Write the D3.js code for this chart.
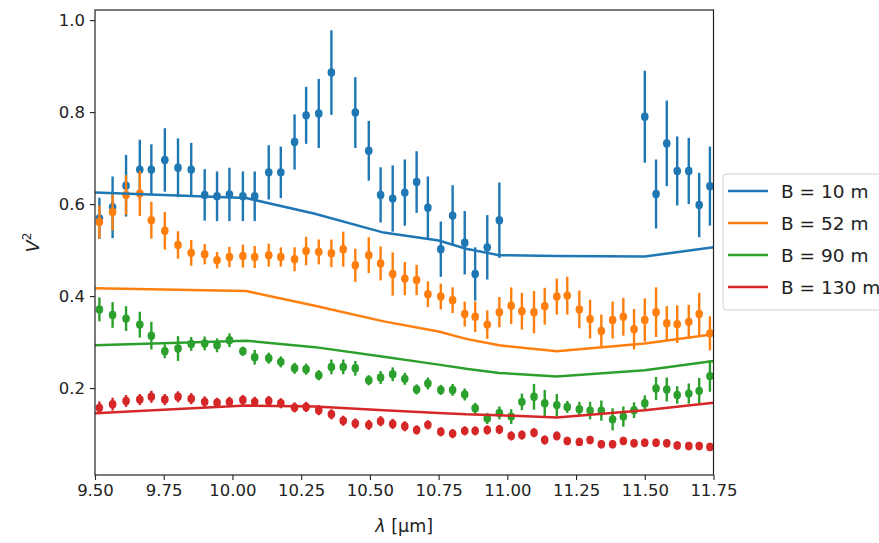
<!DOCTYPE html>
<html>
<head>
<meta charset="utf-8">
<script src="https://cdn.jsdelivr.net/npm/d3@7"></script>
<style>
  body { margin: 0; background: #fff; }
  text { font-family: "DejaVu Sans", sans-serif; fill: #222; }
</style>
</head>
<body>
<div id="chart"></div>
<script>
// wavelengths of the spectral channels (um)
var lam = [9.516, 9.564, 9.613, 9.663, 9.705, 9.754, 9.802, 9.850, 9.899, 9.944, 9.989, 10.038,
  10.081, 10.132, 10.176, 10.226, 10.268, 10.314, 10.360, 10.403, 10.447, 10.496, 10.539, 10.583, 10.627,
  10.670, 10.711, 10.758, 10.801, 10.845, 10.883, 10.927, 10.971, 11.014, 11.053, 11.097, 11.136, 11.180,
  11.218, 11.262, 11.301, 11.342, 11.383, 11.422, 11.461, 11.500, 11.541, 11.580, 11.618, 11.660, 11.698, 11.737];

// measured V^2 (null = no data)
var v2_10 = [0.569, 0.593, 0.640, 0.675, 0.675, 0.696, 0.679, 0.675, 0.620, 0.617, 0.621, 0.617,
  0.617, 0.669, 0.669, 0.735, 0.793, 0.797, 0.886, null, 0.799, 0.716, 0.620, 0.612, 0.625,
  0.648, 0.592, 0.502, 0.575, 0.516, 0.448, 0.506, 0.565, null, null, null, null, null,
  null, null, null, null, null, null, null, 0.790, 0.622, 0.732, 0.672, 0.672, 0.598, 0.639];
var err_10 = [0.045, 0.067, 0.067, 0.065, 0.055, 0.069, 0.064, 0.058, 0.056, 0.054, 0.058, 0.054,
  0.054, 0.059, 0.056, 0.060, 0.062, 0.075, 0.092, null, 0.077, 0.065, 0.060, 0.072, 0.072,
  0.067, 0.068, 0.060, 0.066, 0.069, 0.058, 0.070, 0.082, null, null, null, null, null,
  null, null, null, null, null, null, null, 0.100, 0.075, 0.093, 0.075, 0.072, 0.070, 0.086];

var v2_52 = [0.561, 0.583, 0.620, 0.623, 0.565, 0.542, 0.511, 0.494, 0.491, 0.478, 0.485, 0.487,
  0.485, 0.489, 0.485, 0.480, 0.498, 0.496, 0.493, 0.502, 0.467, 0.489, 0.471, 0.448, 0.438,
  0.435, 0.404, 0.399, 0.391, 0.361, 0.355, 0.338, 0.365, 0.379, 0.367, 0.365, 0.378, 0.399,
  0.401, 0.371, 0.350, 0.324, 0.348, 0.355, 0.328, 0.348, 0.365, 0.341, 0.339, 0.344, 0.361, 0.319];
var err_52 = [0.036, 0.040, 0.043, 0.049, 0.040, 0.041, 0.030, 0.028, 0.022, 0.018, 0.022, 0.025,
  0.024, 0.025, 0.021, 0.026, 0.031, 0.027, 0.030, 0.038, 0.036, 0.039, 0.037, 0.047, 0.036,
  0.033, 0.028, 0.028, 0.028, 0.027, 0.033, 0.031, 0.033, 0.040, 0.040, 0.046, 0.040, 0.039,
  0.041, 0.041, 0.042, 0.036, 0.040, 0.041, 0.044, 0.047, 0.054, 0.037, 0.041, 0.037, 0.046, 0.037];

var v2_90 = [0.371, 0.359, 0.351, 0.338, 0.314, 0.280, 0.286, 0.296, 0.297, 0.293, 0.304, 0.280,
  0.267, 0.265, 0.257, 0.243, 0.241, 0.228, 0.246, 0.246, 0.243, 0.217, 0.223, 0.230, 0.220,
  0.197, 0.210, 0.196, 0.196, 0.186, 0.156, 0.134, 0.146, 0.138, 0.170, 0.181, 0.167, 0.163,
  0.159, 0.154, 0.151, 0.151, 0.132, 0.138, 0.152, 0.167, 0.199, 0.197, 0.185, 0.188, 0.194, 0.226];
var err_90 = [0.026, 0.028, 0.027, 0.028, 0.030, 0.015, 0.027, 0.015, 0.015, 0.015, 0.015, 0.010,
  0.016, 0.012, 0.012, 0.012, 0.012, 0.011, 0.016, 0.016, 0.016, 0.011, 0.014, 0.015, 0.013,
  0.011, 0.013, 0.011, 0.013, 0.013, 0.012, 0.012, 0.014, 0.016, 0.018, 0.028, 0.029, 0.024,
  0.013, 0.016, 0.019, 0.022, 0.024, 0.022, 0.017, 0.017, 0.025, 0.026, 0.019, 0.022, 0.028, 0.034];

var v2_130 = [0.157, 0.165, 0.172, 0.175, 0.181, 0.175, 0.181, 0.177, 0.170, 0.168, 0.170, 0.174,
  0.170, 0.172, 0.167, 0.158, 0.159, 0.152, 0.143, 0.129, 0.123, 0.120, 0.128, 0.122, 0.117,
  0.109, 0.120, 0.105, 0.101, 0.107, 0.107, 0.109, 0.110, 0.096, 0.098, 0.103, 0.087, 0.096,
  0.085, 0.083, 0.087, 0.078, 0.078, 0.085, 0.080, 0.081, 0.081, 0.080, 0.075, 0.074, 0.074, 0.072];
var err_130 = [0.014, 0.014, 0.013, 0.012, 0.013, 0.012, 0.012, 0.012, 0.012, 0.011, 0.011, 0.011,
  0.011, 0.011, 0.011, 0.011, 0.011, 0.011, 0.011, 0.011, 0.011, 0.011, 0.011, 0.011, 0.011,
  0.010, 0.010, 0.010, 0.010, 0.010, 0.010, 0.010, 0.010, 0.010, 0.010, 0.010, 0.010, 0.010,
  0.009, 0.009, 0.009, 0.009, 0.009, 0.009, 0.009, 0.009, 0.009, 0.009, 0.009, 0.009, 0.009, 0.009];

// model curves
var lamModel = [9.5, 10.05, 10.3, 10.55, 10.75, 10.85, 10.97, 11.18, 11.5, 11.75];
var mod_10  = [0.625, 0.613, 0.579, 0.538, 0.521, 0.503, 0.489, 0.487, 0.486, 0.506];
var mod_52  = [0.417, 0.411, 0.379, 0.345, 0.323, 0.307, 0.293, 0.280, 0.297, 0.317];
var mod_90  = [0.293, 0.303, 0.289, 0.268, 0.251, 0.242, 0.233, 0.225, 0.239, 0.259];
var mod_130 = [0.145, 0.162, 0.160, 0.152, 0.146, 0.143, 0.141, 0.136, 0.152, 0.168];

var labels = ["B = 10 m", "B = 52 m", "B = 90 m", "B = 130 m"];
var colors = ["#1f77b4", "#ff7f0e", "#2ca02c", "#d62728"];
var xTicks = [9.5, 9.75, 10, 10.25, 10.5, 10.75, 11, 11.25, 11.5, 11.75];
var yTicks = [0.2, 0.4, 0.6, 0.8, 1.0];

var series = [
  {v: v2_10, e: err_10, m: mod_10},
  {v: v2_52, e: err_52, m: mod_52},
  {v: v2_90, e: err_90, m: mod_90},
  {v: v2_130, e: err_130, m: mod_130}
];

var W = 879, H = 543;
var margin = {top: 10, right: 165.5, bottom: 68, left: 95};

var svg = d3.select("#chart").append("svg")
    .attr("width", W)
    .attr("height", H);

var x = d3.scaleLinear().domain([9.5, 11.75]).range([margin.left, W - margin.right]);
var y = d3.scaleLinear().domain([0.011, 1.022]).range([H - margin.bottom, margin.top]);

var plot = svg.append("g");

var line = d3.line()
    .x(function(d) { return x(d[0]); })
    .y(function(d) { return y(d[1]); });

series.forEach(function(s, i) {
    var pts = lam.map(function(l, j) { return {l: l, v: s.v[j], e: s.e[j]}; })
        .filter(function(d) { return d.v != null; });
    var g = plot.append("g");
    g.selectAll("line.eb")
        .data(pts)
        .enter().append("line")
        .attr("x1", function(d) { return x(d.l); })
        .attr("x2", function(d) { return x(d.l); })
        .attr("y1", function(d) { return y(d.v - d.e); })
        .attr("y2", function(d) { return y(d.v + d.e); })
        .attr("stroke", colors[i])
        .attr("stroke-width", 2.4);
    g.selectAll("ellipse")
        .data(pts)
        .enter().append("ellipse")
        .attr("cx", function(d) { return x(d.l); })
        .attr("cy", function(d) { return y(d.v); })
        .attr("rx", 3.8)
        .attr("ry", 4.2)
        .attr("fill", colors[i]);
});

series.forEach(function(s, i) {
    plot.append("path")
        .datum(lamModel.map(function(l, j) { return [l, s.m[j]]; }))
        .attr("d", line)
        .attr("fill", "none")
        .attr("stroke", colors[i])
        .attr("stroke-width", 2.5);
});

// frame
svg.append("rect")
    .attr("x", x(9.5)).attr("y", y(1.022))
    .attr("width", x(11.75) - x(9.5))
    .attr("height", y(0.011) - y(1.022))
    .attr("fill", "none")
    .attr("stroke", "#222")
    .attr("stroke-width", 1.2);

// axes
var xAxis = svg.append("g")
    .attr("transform", "translate(0," + (H - margin.bottom) + ")")
    .call(d3.axisBottom(x).tickValues(xTicks).tickFormat(d3.format(".2f")).tickSize(5).tickPadding(4));
var yAxis = svg.append("g")
    .attr("transform", "translate(" + margin.left + ",0)")
    .call(d3.axisLeft(y).tickValues(yTicks).tickFormat(d3.format(".1f")).tickSize(5).tickPadding(5));
[xAxis, yAxis].forEach(function(a) {
    a.select(".domain").remove();
    a.selectAll(".tick line").attr("stroke", "#222").attr("stroke-width", 1.1);
    a.selectAll("text").style("font-size", "16.5px").attr("fill", "#222");
});

// axis labels
var xl = svg.append("text")
    .attr("x", (x(9.5) + x(11.75)) / 2)
    .attr("y", 532)
    .attr("text-anchor", "middle")
    .style("font-size", "17.5px");
xl.append("tspan").style("font-style", "italic").text("λ");
xl.append("tspan").text(" [μm]");

var yl = svg.append("text")
    .attr("transform", "translate(39," + ((y(0.011) + y(1.022)) / 2) + ") rotate(-90)")
    .attr("text-anchor", "middle")
    .style("font-size", "17.5px");
yl.append("tspan").style("font-style", "italic").text("V");
yl.append("tspan").attr("dy", -8).style("font-size", "12px").text("2");

// legend
var leg = svg.append("g").attr("transform", "translate(723,174)");
leg.append("rect")
    .attr("width", 170).attr("height", 136)
    .attr("rx", 4)
    .attr("fill", "#fff")
    .attr("stroke", "#d0d0d0");
labels.forEach(function(lb, i) {
    var yy = 17 + i * 32;
    leg.append("line")
        .attr("x1", 5).attr("x2", 45)
        .attr("y1", yy).attr("y2", yy)
        .attr("stroke", colors[i])
        .attr("stroke-width", 2.6);
    leg.append("text")
        .attr("x", 58).attr("y", yy + 6.5)
        .style("font-size", "18.5px")
        .text(lb);
});
</script>
</body>
</html>
